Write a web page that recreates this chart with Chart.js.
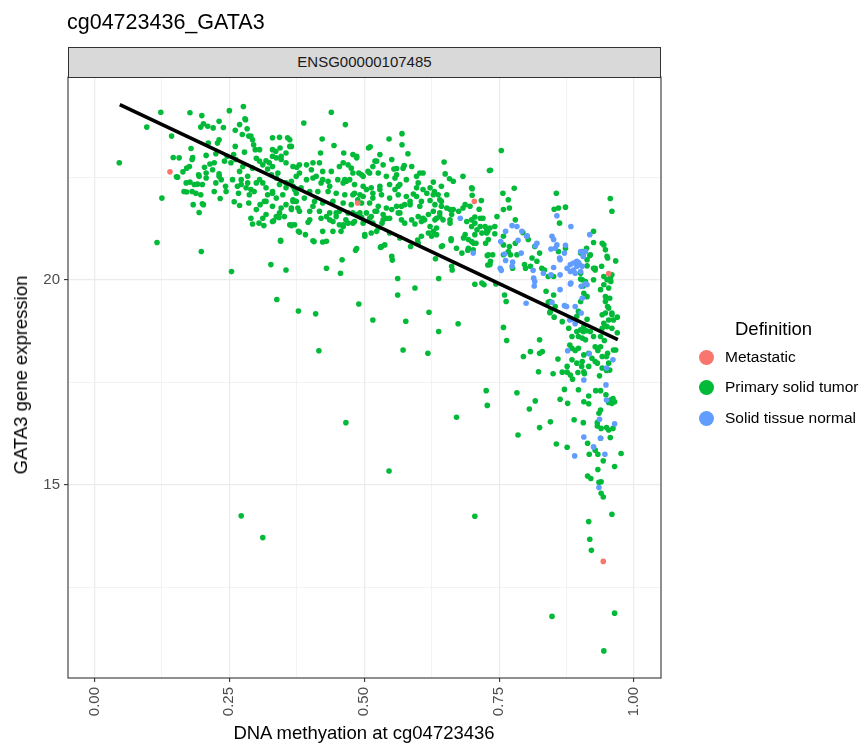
<!DOCTYPE html>
<html>
<head>
<meta charset="utf-8">
<script src="https://cdn.jsdelivr.net/npm/chart.js@4.4.1/dist/chart.umd.min.js"></script>
<style>
  html, body { margin:0; padding:0; background:#fff; }
  #wrap { position:relative; width:863px; height:745px; overflow:hidden; font-family:'Liberation Sans', Arial, Helvetica, sans-serif; }
  #c { position:absolute; left:0; top:0; }
  .abs { position:absolute; white-space:nowrap; }
  #title { left:67px; top:10px; font-size:21.5px; line-height:24px; color:#000; }
  #strip { left:68px; top:47px; width:593px; height:31px; box-sizing:border-box; background:#D9D9D9; border:1.1px solid #333; text-align:center; font-size:15px; line-height:28px; color:#1A1A1A; }
  #ytitle { left:21px; top:375px; font-size:18.5px; line-height:20px; transform:translate(-50%,-50%) rotate(-90deg); color:#000; }
  #xtitle { left:364px; top:733px; font-size:18.5px; line-height:20px; transform:translate(-50%,-50%); color:#000; }
  #legtitle { left:735px; top:318px; font-size:18.5px; line-height:22px; color:#000; }
  .leg { left:725px; font-size:15.5px; line-height:18px; color:#000; }
  .dot { position:absolute; width:15px; height:15px; border-radius:50%; }
</style>
</head>
<body>
<div id="wrap">
  <canvas id="c" width="863" height="745"></canvas>
  <div id="title" class="abs">cg04723436_GATA3</div>
  <div id="strip" class="abs">ENSG00000107485</div>
  <div id="ytitle" class="abs">GATA3 gene expression</div>
  <div id="xtitle" class="abs">DNA methyation at cg04723436</div>
  <div id="legtitle" class="abs">Definition</div>
  <div class="dot" style="left:699px; top:350px; background:#F8766D"></div>
  <div class="abs leg" style="top:348px">Metastatic</div>
  <div class="dot" style="left:699px; top:380px; background:#00BA38"></div>
  <div class="abs leg" style="top:378px">Primary solid tumor</div>
  <div class="dot" style="left:699px; top:411px; background:#619CFF"></div>
  <div class="abs leg" style="top:409px">Solid tissue normal</div>
</div>
<script>
// ---------- data (x = DNA methylation, y = GATA3 expression) ----------
const metastatic = [
 [0.140,22.63],[0.488,21.87],[0.704,21.91],[0.953,20.15],[0.943,13.14]
];
const solidNormal = [
 [0.702,20.65],[0.800,19.43],[0.848,19.45],[0.871,19.37],[0.875,19.35],[0.891,19.35],[0.902,19.19],[0.885,19.04],
 [0.891,18.93],[0.877,18.27],[0.917,18.20],[0.961,18.05],[0.949,17.85],[0.907,17.56],[0.948,17.44],[0.949,17.07],
 [0.890,15.71],[0.907,16.17],[0.925,15.93],[0.946,15.75],[0.938,16.14],[0.964,16.49],[0.936,16.60],[0.935,14.94],
 [0.678,21.50],[0.857,21.56],[0.883,21.30],[0.918,21.10],[0.774,21.32],[0.783,21.30],[0.762,21.18],[0.801,21.06],
 [0.848,21.06],[0.851,20.98],[0.753,20.93],[0.785,20.96],[0.820,20.89],[0.817,20.83],[0.846,20.75],[0.857,20.85],
 [0.854,20.77],[0.873,20.84],[0.871,20.65],[0.901,20.69],[0.906,20.59],[0.760,20.63],[0.762,20.47],[0.775,20.43],
 [0.791,20.65],[0.752,20.28],[0.754,20.23],[0.774,20.33],[0.813,20.23],[0.832,20.16],[0.846,20.12],[0.851,20.30],
 [0.863,20.12],[0.876,20.28],[0.882,20.20],[0.888,20.24],[0.894,20.33],[0.891,20.16],[0.901,20.20],[0.897,20.42],
 [0.814,20.04],[0.816,19.96],[0.815,19.85],[0.883,19.92],[0.863,19.76],[0.902,19.84],[0.913,19.88],[0.904,19.55],
 [0.792,21.18],[0.802,21.07],[0.863,20.49],[0.862,20.53],[0.882,20.37],[0.888,20.41],[0.894,20.45],[0.899,20.37],
 [0.906,20.57],[0.910,20.69],[0.904,20.33],[0.882,19.90],[0.910,19.90],[0.881,19.02]
];
const primaryTumor = [
 // sparse / outlying points
 [0.046,22.85],[0.097,23.72],[0.123,24.08],[0.125,21.99],[0.116,20.91],[0.198,20.69],[0.254,20.20],[0.345,20.94],
 [0.407,20.93],[0.423,20.92],[0.430,20.94],[0.327,20.37],[0.355,20.24],[0.338,19.52],[0.378,19.24],[0.410,19.17],
 [0.416,18.27],[0.430,20.28],[0.459,20.49],[0.456,20.16],[0.484,20.72],[0.490,19.41],[0.516,19.02],[0.531,20.80],
 [0.538,20.85],[0.552,20.48],[0.562,20.03],[0.562,19.63],[0.594,19.80],[0.577,18.99],[0.572,18.29],[0.618,18.21],
 [0.620,19.21],[0.638,18.74],[0.632,20.51],[0.638,20.03],[0.645,20.83],[0.661,20.96],[0.663,20.24],[0.674,18.93],
 [0.692,20.72],[0.703,20.89],[0.725,20.89],[0.728,20.59],[0.729,20.36],[0.705,19.89],[0.722,19.88],[0.726,17.30],
 [0.728,16.94],[0.671,16.65],[0.466,16.52],[0.546,15.34],[0.705,14.24],[0.272,14.25],[0.312,13.72],
 // lower right column
 [0.943,15.59],[0.964,15.45],[0.933,15.38],[0.914,15.22],[0.920,15.16],[0.935,15.07],[0.939,15.08],[0.939,14.80],
 [0.943,14.71],[0.959,14.29],[0.916,14.11],[0.918,13.68],[0.921,13.41],[0.964,11.88],[0.848,11.80],[0.944,10.96],
 [0.763,19.47],[0.844,19.47],[0.844,19.20],[0.852,19.09],[0.867,18.98],[0.913,19.04],[0.947,19.47],[0.953,19.31],
 [0.941,19.15],[0.947,19.19],[0.959,19.15],[0.969,19.09],[0.944,18.94],[0.953,19.02],[0.950,18.86],[0.959,18.82],
 [0.969,18.71],[0.938,18.62],[0.945,18.52],[0.758,18.84],[0.764,18.52],[0.825,18.54],[0.808,18.25],[0.830,18.25],
 [0.795,18.13],[0.859,18.07],[0.823,17.76],[0.850,17.71],[0.867,17.75],[0.876,17.75],[0.881,18.41],[0.885,18.33],
 [0.891,18.28],[0.897,18.62],[0.904,18.58],[0.906,18.74],[0.912,18.76],[0.922,18.09],[0.928,18.01],[0.932,17.97],
 [0.932,18.33],[0.938,18.37],[0.933,18.28],[0.941,18.13],[0.949,18.13],[0.966,18.29],[0.949,17.79],[0.955,17.80],
 [0.903,17.89],[0.896,17.74],[0.908,17.71],[0.886,17.58],[0.936,17.66],[0.871,17.33],[0.897,17.32],[0.929,17.30],
 [0.938,17.30],[0.948,17.20],[0.916,17.17],[0.863,17.09],[0.877,16.99],[0.907,17.03],[0.916,16.98],[0.956,17.07],
 [0.961,17.11],[0.964,17.03],[0.953,17.01],[0.959,16.99],[0.783,17.25],[0.817,17.05],[0.806,16.85],[0.825,16.40],
 [0.785,16.22],[0.845,16.54],[0.856,16.00],[0.876,15.92],[0.889,16.59],[0.906,16.52],[0.914,16.02],[0.928,15.85],
 [0.933,15.75],[0.917,15.75],[0.938,16.14],[0.956,16.16],[0.939,16.38],[0.949,16.40],[0.953,16.34],[0.961,16.38],
 [0.932,16.44],[0.932,16.52],[0.935,16.75],[0.938,16.83],[0.976,15.77],
 // upper-left dense cloud
 [0.143,23.50],[0.177,24.07],[0.199,24.00],[0.197,23.72],[0.202,23.80],[0.210,23.74],[0.220,23.70],[0.231,23.86],
 [0.239,23.71],[0.250,24.12],[0.276,24.22],[0.269,23.78],[0.261,23.64],[0.280,23.90],[0.283,23.68],[0.274,23.54],
 [0.286,23.50],[0.293,23.41],[0.290,23.50],[0.295,23.29],[0.298,23.17],[0.179,23.20],[0.211,23.33],[0.228,23.33],
 [0.231,23.41],[0.261,23.25],[0.278,23.11],[0.146,22.98],[0.157,22.97],[0.182,22.98],[0.181,22.93],[0.207,23.03],
 [0.225,23.07],[0.222,22.85],[0.214,22.82],[0.204,22.74],[0.246,23.01],[0.241,22.89],[0.253,22.85],[0.262,22.93],
 [0.258,23.05],[0.275,22.76],[0.269,22.64],[0.284,22.52],[0.293,22.72],[0.300,22.96],[0.306,22.89],[0.312,22.80],
 [0.318,22.90],[0.324,22.85],[0.330,22.76],[0.330,23.46],[0.343,23.47],[0.358,23.46],[0.365,23.25],[0.355,23.09],
 [0.344,23.21],[0.336,23.13],[0.330,23.01],[0.346,23.01],[0.171,22.72],[0.164,22.63],[0.154,22.50],[0.176,22.76],
 [0.177,22.38],[0.185,22.32],[0.191,22.33],[0.181,22.15],[0.188,22.11],[0.171,22.14],[0.197,22.07],[0.193,22.56],
 [0.207,22.48],[0.200,22.32],[0.225,22.36],[0.222,22.15],[0.231,22.58],[0.235,22.44],[0.243,22.28],[0.244,22.15],
 [0.166,22.15],[0.183,21.83],[0.200,21.85],[0.233,21.98],[0.259,21.90],[0.267,22.11],[0.272,22.32],[0.281,22.24],
 [0.287,22.07],[0.296,22.15],[0.300,22.36],[0.306,22.44],[0.312,22.36],[0.318,22.24],[0.321,22.07],[0.315,21.91],
 [0.307,21.83],[0.328,22.56],[0.337,22.48],[0.343,22.32],[0.330,22.15],[0.337,21.99],[0.349,22.07],[0.355,22.24],
 [0.365,22.40],[0.374,22.52],[0.371,22.20],[0.368,21.95],[0.355,21.83],[0.346,21.75],[0.343,21.63],[0.352,21.54],
 [0.337,21.54],[0.290,21.50],[0.293,21.36],[0.305,21.38],[0.314,21.32],[0.332,21.44],[0.342,21.52],[0.365,21.34],
 [0.378,21.18],[0.345,20.96],[0.152,22.51],[0.194,21.64],[0.202,21.83],[0.269,21.81],[0.286,21.87],[0.318,21.91],
 [0.330,21.79],[0.368,21.91],[0.377,21.75],[0.318,21.59],[0.300,21.71],[0.330,21.42],[0.312,21.50],[0.365,21.71],
 [0.279,23.92],[0.306,23.17],[0.321,22.70],[0.330,23.17],[0.337,22.97],[0.346,22.93],[0.340,22.60],[0.355,22.85],
 [0.362,23.25],[0.375,22.74],[0.380,22.60],[0.402,22.68],[0.411,22.52],[0.423,22.44],[0.436,22.28],[0.461,22.36],
 [0.473,22.44],[0.482,22.11],[0.488,21.95],[0.448,21.63],[0.430,21.54],[0.405,21.79],[0.374,22.11],[0.355,22.36],
 [0.330,22.11],[0.290,22.20],[0.284,22.36],[0.272,22.44],[0.265,22.28],[0.256,22.44],[0.231,22.52],[0.219,22.68],
 [0.207,22.60],[0.194,22.52],[0.170,22.36],
 // middle cloud
 [0.439,24.08],[0.388,23.82],[0.465,23.78],[0.422,23.43],[0.444,23.27],[0.546,23.43],[0.570,23.56],[0.508,23.21],
 [0.511,23.24],[0.362,23.41],[0.419,23.09],[0.462,23.09],[0.479,23.05],[0.486,22.97],[0.529,23.05],[0.520,22.89],
 [0.535,22.80],[0.551,22.93],[0.581,23.07],[0.560,22.71],[0.574,22.78],[0.648,22.87],[0.683,22.52],[0.700,22.22],
 [0.732,22.66],[0.650,22.58],[0.658,22.46],[0.665,22.40],[0.628,22.38],[0.643,22.28],[0.630,22.15],[0.616,22.11],
 [0.637,22.07],[0.603,22.60],[0.609,22.60],[0.597,22.52],[0.600,22.36],[0.597,22.24],[0.591,22.09],[0.578,22.03],
 [0.585,21.91],[0.606,21.91],[0.622,21.93],[0.631,21.83],[0.643,21.91],[0.653,21.75],[0.665,21.71],[0.662,21.59],
 [0.640,21.63],[0.628,21.67],[0.619,21.59],[0.609,21.50],[0.634,21.50],[0.646,21.46],[0.659,21.38],[0.622,21.30],
 [0.628,21.18],[0.634,21.26],[0.625,21.06],[0.690,21.42],[0.699,21.46],[0.705,21.38],[0.699,21.30],[0.709,21.22],
 [0.715,21.30],[0.718,21.14],[0.729,21.18],[0.687,21.10],[0.705,21.10],[0.699,20.93],[0.684,21.02],[0.693,20.77],
 [0.702,20.73],[0.713,21.72],[0.715,21.50],[0.661,21.00],[0.486,20.76],[0.530,20.79],[0.599,20.97],[0.566,21.63],
 [0.569,21.46],[0.575,21.38],[0.588,21.46],[0.594,21.36],[0.606,21.42],[0.547,21.14],[0.566,21.02],[0.526,21.26],
 [0.513,21.14],[0.501,21.06],[0.482,21.42],[0.423,21.18],[0.405,20.95],[0.380,21.16],[0.391,21.10],[0.442,21.18],
 [0.454,21.34],[0.470,21.38],[0.479,21.63],[0.495,21.52],[0.510,21.50],[0.523,21.67],[0.535,21.59],[0.541,21.50],
 [0.551,21.71],[0.368,22.76],[0.380,22.80],[0.393,22.80],[0.405,22.85],[0.417,22.85],[0.423,22.64],[0.439,22.64],
 [0.454,22.76],[0.461,22.85],[0.470,22.80],[0.479,22.60],[0.495,22.56],[0.510,22.60],[0.526,22.60],[0.541,22.52],
 [0.557,22.48],[0.566,22.32],[0.547,22.32],[0.529,22.28],[0.513,22.24],[0.498,22.28],[0.482,22.32],[0.467,22.40],
 [0.451,22.44],[0.433,22.40],[0.420,22.36],[0.405,22.48],[0.393,22.44],[0.368,22.28],[0.383,22.24],[0.399,22.15],
 [0.414,22.15],[0.433,22.15],[0.448,22.11],[0.464,22.07],[0.479,22.07],[0.498,22.03],[0.516,21.99],[0.532,22.07],
 [0.547,21.99],[0.563,22.07],[0.575,21.83],[0.560,21.79],[0.541,21.75],[0.526,21.79],[0.510,21.87],[0.495,21.87],
 [0.476,21.83],[0.461,21.87],[0.442,21.91],[0.423,21.87],[0.408,21.91],[0.389,21.99],[0.374,21.91],[0.365,21.75],
 [0.380,21.67],[0.399,21.67],[0.417,21.67],[0.436,21.63],[0.454,21.67],[0.470,21.63],[0.486,21.59],[0.504,21.63],
 [0.520,21.67],[0.535,21.46],[0.516,21.38],[0.498,21.38],[0.399,21.46],[0.420,21.50],[0.442,21.42],[0.362,21.34],
 [0.371,21.34],[0.365,21.32],[0.396,21.40],[0.436,21.46],[0.448,21.54],[0.461,21.34],[0.457,21.18],
 // right-hand cloud
 [0.754,23.15],[0.734,22.67],[0.956,21.98],[0.959,21.67],[0.856,22.11],[0.852,21.72],[0.860,21.75],[0.873,21.77],
 [0.862,21.38],[0.925,21.18],[0.912,20.77],[0.904,20.69],[0.918,20.59],[0.925,20.91],[0.944,20.85],[0.947,20.73],
 [0.950,20.57],[0.966,20.46],[0.940,20.33],[0.928,20.28],[0.913,20.34],[0.944,20.08],[0.950,20.00],[0.956,20.04],
 [0.957,19.96],[0.953,19.80],[0.955,19.55],[0.947,19.59],[0.910,19.96],[0.901,20.02],[0.906,19.85],[0.873,20.77],
 [0.860,20.69],[0.851,20.08],[0.834,20.24],[0.825,20.65],[0.811,20.53],[0.797,20.37],[0.799,20.28],[0.775,20.28],
 [0.758,20.61],[0.769,20.81],[0.767,20.69],[0.780,20.89],[0.671,20.77],[0.662,20.33],[0.733,20.37],[0.730,20.61],
 [0.738,20.61],[0.742,21.12],[0.727,21.22],[0.746,21.54],[0.780,21.46],[0.794,21.15],[0.804,20.98],[0.816,20.81],
 [0.757,22.11],[0.767,21.95],[0.778,22.23],[0.769,21.75],[0.758,21.71],[0.717,21.93],[0.699,22.24],[0.700,22.06],
 [0.705,21.53],[0.720,21.50],[0.724,21.30],[0.733,21.26],[0.742,21.30],[0.683,21.75],[0.675,21.67],[0.687,21.83],
 [0.696,21.79],[0.622,22.24],[0.609,22.20],[0.588,22.76],[0.570,23.29],[0.578,22.44],[0.563,22.28],[0.557,22.20],
 [0.529,22.20],[0.516,22.11],[0.504,22.20],[0.492,22.07],[0.464,22.44],[0.466,21.46],[0.461,21.30],[0.523,22.89],
 [0.516,22.76],[0.507,22.64],[0.486,23.01],[0.476,22.72],[0.490,22.60],[0.498,22.52],[0.555,22.70],[0.560,22.56],
 [0.572,22.72],[0.597,22.03],[0.628,22.07],[0.640,21.95],[0.653,22.07],[0.643,21.79],[0.659,21.71],[0.603,21.79],
 [0.585,21.83],[0.600,21.54],[0.612,21.46],[0.631,21.46],[0.640,21.54],[0.659,21.46],[0.563,21.63],[0.569,21.79],
 [0.547,21.50],[0.533,21.38],[0.513,21.54],[0.492,21.63],[0.523,21.18],[0.501,21.10],[0.479,21.38],[0.606,21.06],
 [0.634,21.10],[0.643,20.81],[0.600,20.89],[0.619,21.14],[0.586,20.81],[0.551,20.57],[0.532,20.81],[0.730,20.98],
 [0.734,20.45],[0.744,19.90],[0.718,19.92],
 [0.941,20.89],[0.951,20.53],[0.925,20.28],[0.959,20.12],[0.944,19.88],[0.938,19.76],[0.951,19.35],[0.959,19.19],
 [0.962,19.02],[0.941,18.82],[0.951,18.21],[0.962,18.29],[0.953,17.97],[0.941,17.85],[0.901,20.65],[0.913,20.49],
 [0.919,20.61],[0.928,20.24],[0.901,20.16],[0.925,20.00],[0.904,20.00],[0.907,19.67],[0.913,19.59],[0.901,19.47],
 [0.897,19.23],[0.894,19.11],[0.907,18.86],[0.910,18.54],[0.919,18.74],[0.925,18.62],[0.928,18.37],[0.916,18.21],
 [0.894,18.74],[0.885,18.62],[0.897,18.33],[0.907,18.17],[0.904,18.01],[0.894,17.97],[0.885,18.05],[0.876,17.89],
 [0.882,17.68],[0.907,17.76],[0.916,17.89],[0.760,19.63],[0.841,19.45],[0.845,19.23],[0.854,19.35],[0.879,18.82],
 [0.901,18.78],[0.837,19.72],[0.851,19.63],[0.825,18.21],[0.707,20.89],[0.681,20.65],[0.693,20.98],[0.727,21.14],
 [0.758,21.06],[0.758,20.85],[0.771,20.61],[0.783,20.61],[0.808,20.33],[0.820,20.45],[0.829,20.28],[0.841,20.08]
];
// linear fit line (end points)
const fitX = [0.047, 0.970];
const fitY = [24.27, 18.54];
// axis ticks
const xMajor = [0, 0.25, 0.5, 0.75, 1];
const xMinor = [0.125, 0.375, 0.625, 0.875];
const yMajor = [15, 20];
const yMinor = [12.5, 17.5, 22.5];
const xRange = [-0.049, 1.050];
const yRange = [10.30, 24.94];

// ---------- chart ----------
const toPts = arr => arr.map(p => ({x: p[0], y: p[1]}));
const FONT = "'Liberation Sans', Arial, Helvetica, sans-serif";

const panelBorder = {
  id: 'panelBorder',
  afterDraw(chart) {
    const a = chart.chartArea, c = chart.ctx;
    c.save();
    c.strokeStyle = '#333333';
    c.lineWidth = 1.1;
    c.strokeRect(a.left, a.top, a.right - a.left, a.bottom - a.top);
    c.restore();
  }
};

function axisOpts(major, minor, range, fmt, isX) {
  const all = major.concat(minor).sort((a, b) => a - b);
  return {
    type: 'linear',
    min: range[0], max: range[1],
    afterBuildTicks: s => { s.ticks = all.map(v => ({value: v})); },
    afterFit: s => { if (isX) s.height = 67; else s.width = 68; },
    ticks: {
      autoSkip: false,
      color: '#4D4D4D',
      font: {family: FONT, size: 15},
      padding: isX ? 5 : 4,
      minRotation: isX ? 90 : 0,
      maxRotation: isX ? 90 : 0,
      callback: v => major.includes(v) ? fmt(v) : ''
    },
    grid: {
      color: '#EBEBEB',
      lineWidth: ctx => (ctx.tick && major.includes(ctx.tick.value)) ? 1.2 : 0.6,
      drawTicks: true,
      tickLength: 4,
      tickWidth: 1.1,
      tickColor: ctx => (ctx.tick && major.includes(ctx.tick.value)) ? '#333333' : 'rgba(0,0,0,0)'
    },
    border: {display: false}
  };
}

new Chart(document.getElementById('c').getContext('2d'), {
  type: 'scatter',
  data: {
    datasets: [
      {type: 'line', label: 'fit', data: fitX.map((x, i) => ({x, y: fitY[i]})),
       borderColor: '#000', borderWidth: 3.6, pointRadius: 0, fill: false, order: 0},
      {label: 'Metastatic', data: toPts(metastatic), backgroundColor: '#F8766D', borderWidth: 0, pointRadius: 2.8, order: 1},
      {label: 'Solid tissue normal', data: toPts(solidNormal), backgroundColor: '#619CFF', borderWidth: 0, pointRadius: 2.8, order: 2},
      {label: 'Primary solid tumor', data: toPts(primaryTumor), backgroundColor: '#00BA38', borderWidth: 0, pointRadius: 2.8, order: 3}
    ]
  },
  options: {
    responsive: false,
    animation: false,
    devicePixelRatio: 1,
    layout: {padding: {left: 0, top: 77, right: 202, bottom: 0}},
    plugins: {legend: {display: false}, tooltip: {enabled: false}, title: {display: false}},
    scales: {
      x: axisOpts(xMajor, xMinor, xRange, v => v.toFixed(2), true),
      y: axisOpts(yMajor, yMinor, yRange, v => String(v), false)
    }
  },
  plugins: [panelBorder]
});
</script>
</body>
</html>
